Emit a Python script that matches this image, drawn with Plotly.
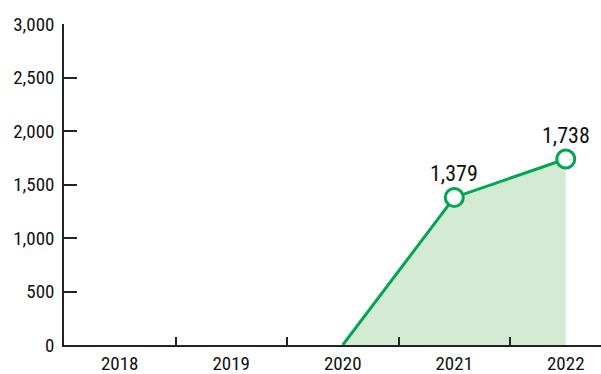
import plotly.graph_objects as go

years = ["2018", "2019", "2020", "2021", "2022"]
values = [None, None, 0, 1379, 1738]
y_ticks = [0, 500, 1000, 1500, 2000, 2500, 3000]

GREEN = "#00a651"
FILL = "rgba(190,226,190,0.68)"
FONT = "Roboto Condensed, Liberation Sans Narrow, sans-serif"

labeled = [(i, v) for i, v in enumerate(values) if v]

fig = go.Figure()
fig.add_trace(go.Scatter(
    x=list(range(len(years))), y=values, mode="lines",
    line=dict(color=GREEN, width=3),
    fill="tozeroy", fillcolor=FILL,
    connectgaps=False, hoverinfo="skip",
))
fig.add_trace(go.Scatter(
    x=[i for i, _ in labeled], y=[v for _, v in labeled], mode="markers",
    marker=dict(size=18, color="white", line=dict(color=GREEN, width=3)),
    hoverinfo="skip",
))
for i, v in labeled:
    fig.add_annotation(
        x=i, y=v, text=f"{v:,}", showarrow=False,
        yshift=24, font=dict(size=22, color="#111", family=FONT),
    )

fig.update_layout(
    width=601, height=374,
    margin=dict(l=64, r=0, t=24, b=29),
    paper_bgcolor="white", plot_bgcolor="white",
    showlegend=False,
    font=dict(family=FONT, size=19, color="#111"),
)
fig.update_xaxes(
    range=[-0.5, 4.316],
    tickvals=list(range(len(years))), ticktext=years,
    showgrid=False, zeroline=False, automargin=False,
    showline=True, linecolor="#222", linewidth=1.5,
    ticks="", tickfont=dict(size=19, family=FONT, color="#111"),
    ticklabelstandoff=0,
)
# boundary tick marks between years on the x axis
fig.update_layout(xaxis2=dict(
    overlaying="x", matches="x", anchor="y",
    tickvals=[i + 0.5 for i in range(len(years) - 1)],
    ticks="inside", ticklen=8, tickcolor="#222", tickwidth=1.5,
    showticklabels=False, showgrid=False, zeroline=False, showline=False,
    automargin=False,
))
fig.add_trace(go.Scatter(x=[None], y=[None], xaxis="x2", showlegend=False, hoverinfo="skip"))
fig.update_yaxes(
    range=[0, 3000], tickvals=y_ticks,
    tickformat=",d",
    showgrid=False, zeroline=False, automargin=False,
    showline=True, linecolor="#222", linewidth=1.5,
    ticks="inside", ticklen=13, tickcolor="#222", tickwidth=1.5,
    tickfont=dict(size=19, family=FONT, color="#111"),
    ticklabelstandoff=4,
)

fig.write_html("out.html")
